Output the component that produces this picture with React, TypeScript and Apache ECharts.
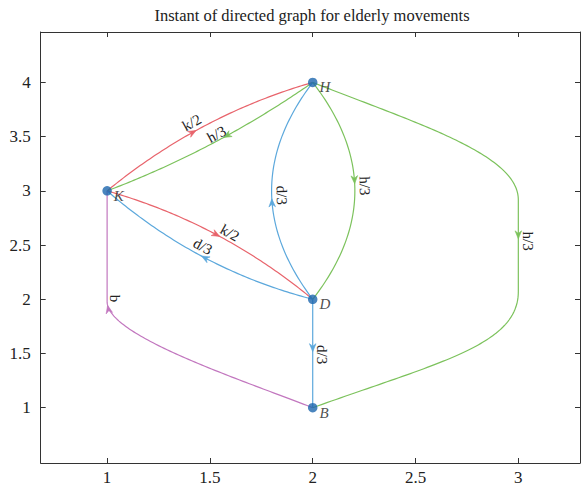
import React, { useEffect, useRef } from 'react';
import * as echarts from 'echarts';

const TITLE = 'Instant of directed graph for elderly movements';
const xTicks = [1, 1.5, 2, 2.5, 3];
const yTicks = [1, 1.5, 2, 2.5, 3, 3.5, 4];
const X_MIN = 0.677;
const X_MAX = 3.3;
const Y_MIN = 0.49;
const Y_MAX = 4.465;

const nodeNames = ['K', 'H', 'D', 'B'];
const nodeX = [1, 2, 2, 2];
const nodeY = [3, 4, 2, 1];

const edgeFrom = ['K', 'H', 'K', 'D', 'D', 'H', 'D', 'B', 'H'];
const edgeTo = ['H', 'K', 'D', 'K', 'H', 'D', 'B', 'K', 'B'];
const edgeWeight = ['k/2', 'h/3', 'k/2', 'd/3', 'd/3', 'h/3', 'd/3', 'b', 'h/3'];

// Route of each edge (data coords): Q = quadratic control, C = cubic controls, L = line.
// The last command ends at the target node when its end point is omitted.
const edgeRoute: any[][] = [
  [['Q', 1.45, 3.7]],
  [['Q', 1.53, 3.38]],
  [['Q', 1.555, 2.7]],
  [['Q', 1.44, 2.275]],
  [['Q', 1.6, 3.0]],
  [['Q', 2.41, 3.0]],
  [['L']],
  [['C', 1.6, 1.293, 1.0, 1.671, 1.0, 1.978], ['L']],
  [['C', 2.523, 3.61, 3.0, 3.333, 3.0, 2.917], ['L', 3.0, 2.071], ['C', 3.0, 1.579, 2.62, 1.422]],
];

const RED = '#e8646c';
const GREEN = '#7cc25c';
const BLUE = '#5ca8dc';
const PURPLE = '#c277bf';
const edgeColor = [RED, GREEN, RED, BLUE, BLUE, GREEN, BLUE, PURPLE, GREEN];
const arrowAt = [0.46, 0.45, 0.52, 0.51, 0.466, 0.47, 0.483, 0.67, 0.486];
const labelAt = [0.46, 0.47, 0.55, 0.525, 0.48, 0.48, 0.51, 0.69, 0.49];
const labelGap = [9, 6, 8, 9, 10, 10, 9, 8, 10];

const FONT = "'Liberation Serif', 'Times New Roman', serif";

function renderEdge(params: any, api: any) {
  const i = params.dataIndex;
  const fi = nodeNames.indexOf(edgeFrom[i]);
  const ti = nodeNames.indexOf(edgeTo[i]);
  const start = api.coord([nodeX[fi], nodeY[fi]]);
  const pts: number[][] = [start];
  let cur = start;
  const route = edgeRoute[i];
  route.forEach((cmd: any[]) => {
    const type = cmd[0];
    const nums = cmd.slice(1);
    const need = type === 'L' ? 2 : type === 'Q' ? 4 : 6;
    const full = nums.length >= need ? nums : nums.concat([nodeX[ti], nodeY[ti]]);
    const P: number[][] = [];
    for (let j = 0; j < full.length; j += 2) P.push(api.coord([full[j], full[j + 1]]));
    const N = type === 'L' ? 1 : 80;
    for (let s = 1; s <= N; s++) {
      const t = s / N;
      let x = 0;
      let y = 0;
      if (type === 'L') {
        x = cur[0] + (P[0][0] - cur[0]) * t;
        y = cur[1] + (P[0][1] - cur[1]) * t;
      } else if (type === 'Q') {
        const a = (1 - t) * (1 - t), b = 2 * t * (1 - t), c = t * t;
        x = a * cur[0] + b * P[0][0] + c * P[1][0];
        y = a * cur[1] + b * P[0][1] + c * P[1][1];
      } else {
        const a = (1 - t) ** 3, b = 3 * t * (1 - t) ** 2, c = 3 * t * t * (1 - t), d = t ** 3;
        x = a * cur[0] + b * P[0][0] + c * P[1][0] + d * P[2][0];
        y = a * cur[1] + b * P[0][1] + c * P[1][1] + d * P[2][1];
      }
      pts.push([x, y]);
    }
    cur = P[P.length - 1];
  });
  const cum = [0];
  for (let k = 1; k < pts.length; k++) {
    cum.push(cum[k - 1] + Math.hypot(pts[k][0] - pts[k - 1][0], pts[k][1] - pts[k - 1][1]));
  }
  const total = cum[cum.length - 1];
  const at = (f: number) => {
    const L = f * total;
    let k = 1;
    while (k < cum.length - 1 && cum[k] < L) k++;
    const seg = cum[k] - cum[k - 1] || 1;
    const r = (L - cum[k - 1]) / seg;
    const p = [pts[k - 1][0] + (pts[k][0] - pts[k - 1][0]) * r, pts[k - 1][1] + (pts[k][1] - pts[k - 1][1]) * r];
    const dx = pts[k][0] - pts[k - 1][0];
    const dy = pts[k][1] - pts[k - 1][1];
    const len = Math.hypot(dx, dy) || 1;
    return { p, u: [dx / len, dy / len] };
  };
  const color = edgeColor[i];
  const A = at(arrowAt[i]);
  const AL = 8, AW = 3.3;
  const tip = A.p;
  const u = A.u;
  const n = [-u[1], u[0]];
  const back = [tip[0] - u[0] * AL, tip[1] - u[1] * AL];
  const notch = [tip[0] - u[0] * AL * 0.68, tip[1] - u[1] * AL * 0.68];
  const arrow = [
    tip,
    [back[0] + n[0] * AW, back[1] + n[1] * AW],
    notch,
    [back[0] - n[0] * AW, back[1] - n[1] * AW],
  ];
  const Lb = at(labelAt[i]);
  let theta = Math.atan2(Lb.u[1], Lb.u[0]);
  if (theta > Math.PI / 2 + 1e-6) theta -= Math.PI;
  if (theta <= -Math.PI / 2 + 1e-6) theta += Math.PI;
  const above = [Math.sin(theta), -Math.cos(theta)];
  const lx = Lb.p[0] + above[0] * labelGap[i];
  const ly = Lb.p[1] + above[1] * labelGap[i];
  return {
    type: 'group',
    children: [
      { type: 'polyline', shape: { points: pts }, style: { stroke: color, lineWidth: 1.2, fill: null } },
      { type: 'polygon', shape: { points: arrow }, style: { fill: color, stroke: color, lineWidth: 0.6 } },
      {
        type: 'text',
        x: lx,
        y: ly,
        rotation: -theta,
        style: {
          text: edgeWeight[i],
          fill: '#222',
          fontSize: 15,
          fontFamily: FONT,
          align: 'center',
          verticalAlign: 'middle',
        },
      },
    ],
  };
}

export default function App() {
  const ref = useRef<HTMLDivElement>(null);
  useEffect(() => {
    if (!ref.current) return;
    const chart = echarts.init(ref.current, undefined, { renderer: 'svg' });
    const axisLine = { show: true, lineStyle: { color: '#333', width: 1 } };
    const tick = (vals: number[]) => ({ show: true, inside: true, length: 5, customValues: vals, lineStyle: { color: '#333', width: 1 } });
    const lbl = (vals: number[], margin: number) => ({
      show: true,
      customValues: vals,
      formatter: (v: number) => String(v),
      fontFamily: FONT,
      fontSize: 17,
      color: '#222',
      margin,
    });
    chart.setOption({
      animation: false,
      backgroundColor: '#fff',
      title: {
        text: TITLE,
        left: 307,
        top: 2,
        textAlign: 'center',
        textStyle: { fontFamily: FONT, fontSize: 16.5, fontWeight: 'normal', color: '#222' },
      },
      grid: { left: 40.7, right: 2, top: 32, bottom: 25, containLabel: false },
      xAxis: [
        { type: 'value', position: 'bottom', min: X_MIN, max: X_MAX, axisLine, axisTick: tick(xTicks), axisLabel: lbl(xTicks, 6), splitLine: { show: false } },
        { type: 'value', position: 'top', min: X_MIN, max: X_MAX, axisLine, axisTick: tick(xTicks), axisLabel: { show: false }, splitLine: { show: false } },
      ],
      yAxis: [
        { type: 'value', position: 'left', min: Y_MIN, max: Y_MAX, axisLine, axisTick: tick(yTicks), axisLabel: lbl(yTicks, 10), splitLine: { show: false } },
        { type: 'value', position: 'right', min: Y_MIN, max: Y_MAX, axisLine, axisTick: tick(yTicks), axisLabel: { show: false }, splitLine: { show: false } },
      ],
      series: [
        {
          type: 'custom',
          xAxisIndex: 0,
          yAxisIndex: 0,
          renderItem: renderEdge,
          data: edgeFrom.map((f, i) => {
            const fi = nodeNames.indexOf(f);
            return [nodeX[fi], nodeY[fi], i];
          }),
          encode: { x: 0, y: 1 },
          z: 2,
        },
        {
          type: 'scatter',
          xAxisIndex: 0,
          yAxisIndex: 0,
          symbolSize: 9.5,
          itemStyle: { color: '#1d66ae' },
          data: nodeNames.map((name, i) => [nodeX[i], nodeY[i], name]),
          label: {
            show: true,
            position: 'right',
            distance: 2,
            offset: [0, 5],
            formatter: (p: any) => p.data[2],
            fontFamily: FONT,
            fontStyle: 'italic',
            fontSize: 15,
            color: '#222',
          },
          z: 3,
        },
      ],
    });
    return () => chart.dispose();
  }, []);
  return <div ref={ref} style={{ position: 'absolute', left: 0, top: 0, width: 582, height: 488 }} />;
}
